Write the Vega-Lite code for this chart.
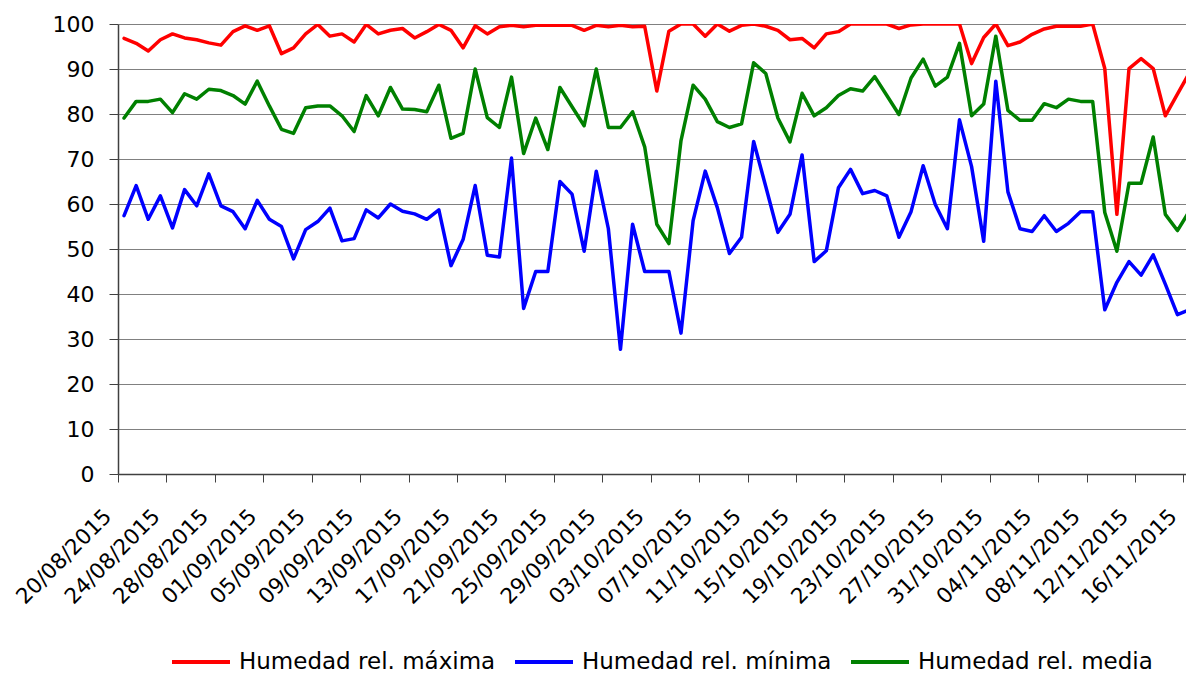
{
"$schema": "https://vega.github.io/schema/vega-lite/v6.json",
"width": 1068, "height": 450,
"autosize": {"type": "none"},
"padding": {"left": 118, "top": 24, "right": 0, "bottom": 203},
"background": "white",
"config": {"view": {"stroke": null}, "font": "DejaVu Sans"},
"datasets": {
"d": [
{"fecha":"2015-08-20","serie":"Humedad rel. máxima","valor":96.8},{"fecha":"2015-08-21","serie":"Humedad rel. máxima","valor":95.7},{"fecha":"2015-08-22","serie":"Humedad rel. máxima","valor":94.0},{"fecha":"2015-08-23","serie":"Humedad rel. máxima","valor":96.5},{"fecha":"2015-08-24","serie":"Humedad rel. máxima","valor":97.8},{"fecha":"2015-08-25","serie":"Humedad rel. máxima","valor":96.9},{"fecha":"2015-08-26","serie":"Humedad rel. máxima","valor":96.5},{"fecha":"2015-08-27","serie":"Humedad rel. máxima","valor":95.8},{"fecha":"2015-08-28","serie":"Humedad rel. máxima","valor":95.3},{"fecha":"2015-08-29","serie":"Humedad rel. máxima","valor":98.3},
{"fecha":"2015-08-30","serie":"Humedad rel. máxima","valor":99.6},{"fecha":"2015-08-31","serie":"Humedad rel. máxima","valor":98.6},{"fecha":"2015-09-01","serie":"Humedad rel. máxima","valor":99.6},{"fecha":"2015-09-02","serie":"Humedad rel. máxima","valor":93.4},{"fecha":"2015-09-03","serie":"Humedad rel. máxima","valor":94.7},{"fecha":"2015-09-04","serie":"Humedad rel. máxima","valor":97.8},{"fecha":"2015-09-05","serie":"Humedad rel. máxima","valor":99.9},{"fecha":"2015-09-06","serie":"Humedad rel. máxima","valor":97.3},{"fecha":"2015-09-07","serie":"Humedad rel. máxima","valor":97.8},{"fecha":"2015-09-08","serie":"Humedad rel. máxima","valor":96.0},
{"fecha":"2015-09-09","serie":"Humedad rel. máxima","valor":99.9},{"fecha":"2015-09-10","serie":"Humedad rel. máxima","valor":97.8},{"fecha":"2015-09-11","serie":"Humedad rel. máxima","valor":98.6},{"fecha":"2015-09-12","serie":"Humedad rel. máxima","valor":99.0},{"fecha":"2015-09-13","serie":"Humedad rel. máxima","valor":96.9},{"fecha":"2015-09-14","serie":"Humedad rel. máxima","valor":98.3},{"fecha":"2015-09-15","serie":"Humedad rel. máxima","valor":99.9},{"fecha":"2015-09-16","serie":"Humedad rel. máxima","valor":98.6},{"fecha":"2015-09-17","serie":"Humedad rel. máxima","valor":94.7},{"fecha":"2015-09-18","serie":"Humedad rel. máxima","valor":99.6},
{"fecha":"2015-09-19","serie":"Humedad rel. máxima","valor":97.8},{"fecha":"2015-09-20","serie":"Humedad rel. máxima","valor":99.4},{"fecha":"2015-09-21","serie":"Humedad rel. máxima","valor":99.7},{"fecha":"2015-09-22","serie":"Humedad rel. máxima","valor":99.4},{"fecha":"2015-09-23","serie":"Humedad rel. máxima","valor":99.7},{"fecha":"2015-09-24","serie":"Humedad rel. máxima","valor":99.7},{"fecha":"2015-09-25","serie":"Humedad rel. máxima","valor":99.7},{"fecha":"2015-09-26","serie":"Humedad rel. máxima","valor":99.7},{"fecha":"2015-09-27","serie":"Humedad rel. máxima","valor":98.6},{"fecha":"2015-09-28","serie":"Humedad rel. máxima","valor":99.7},
{"fecha":"2015-09-29","serie":"Humedad rel. máxima","valor":99.4},{"fecha":"2015-09-30","serie":"Humedad rel. máxima","valor":99.7},{"fecha":"2015-10-01","serie":"Humedad rel. máxima","valor":99.4},{"fecha":"2015-10-02","serie":"Humedad rel. máxima","valor":99.5},{"fecha":"2015-10-03","serie":"Humedad rel. máxima","valor":85.1},{"fecha":"2015-10-04","serie":"Humedad rel. máxima","valor":98.4},{"fecha":"2015-10-05","serie":"Humedad rel. máxima","valor":100},{"fecha":"2015-10-06","serie":"Humedad rel. máxima","valor":100},{"fecha":"2015-10-07","serie":"Humedad rel. máxima","valor":97.3},{"fecha":"2015-10-08","serie":"Humedad rel. máxima","valor":100},
{"fecha":"2015-10-09","serie":"Humedad rel. máxima","valor":98.4},{"fecha":"2015-10-10","serie":"Humedad rel. máxima","valor":99.7},{"fecha":"2015-10-11","serie":"Humedad rel. máxima","valor":100},{"fecha":"2015-10-12","serie":"Humedad rel. máxima","valor":99.5},{"fecha":"2015-10-13","serie":"Humedad rel. máxima","valor":98.6},{"fecha":"2015-10-14","serie":"Humedad rel. máxima","valor":96.5},{"fecha":"2015-10-15","serie":"Humedad rel. máxima","valor":96.8},{"fecha":"2015-10-16","serie":"Humedad rel. máxima","valor":94.7},{"fecha":"2015-10-17","serie":"Humedad rel. máxima","valor":97.8},{"fecha":"2015-10-18","serie":"Humedad rel. máxima","valor":98.3},
{"fecha":"2015-10-19","serie":"Humedad rel. máxima","valor":100},{"fecha":"2015-10-20","serie":"Humedad rel. máxima","valor":100},{"fecha":"2015-10-21","serie":"Humedad rel. máxima","valor":100},{"fecha":"2015-10-22","serie":"Humedad rel. máxima","valor":100},{"fecha":"2015-10-23","serie":"Humedad rel. máxima","valor":99.0},{"fecha":"2015-10-24","serie":"Humedad rel. máxima","valor":99.8},{"fecha":"2015-10-25","serie":"Humedad rel. máxima","valor":100},{"fecha":"2015-10-26","serie":"Humedad rel. máxima","valor":100},{"fecha":"2015-10-27","serie":"Humedad rel. máxima","valor":100},{"fecha":"2015-10-28","serie":"Humedad rel. máxima","valor":100},
{"fecha":"2015-10-29","serie":"Humedad rel. máxima","valor":91.2},{"fecha":"2015-10-30","serie":"Humedad rel. máxima","valor":97.0},{"fecha":"2015-10-31","serie":"Humedad rel. máxima","valor":100},{"fecha":"2015-11-01","serie":"Humedad rel. máxima","valor":95.2},{"fecha":"2015-11-02","serie":"Humedad rel. máxima","valor":96.0},{"fecha":"2015-11-03","serie":"Humedad rel. máxima","valor":97.7},{"fecha":"2015-11-04","serie":"Humedad rel. máxima","valor":98.9},{"fecha":"2015-11-05","serie":"Humedad rel. máxima","valor":99.5},{"fecha":"2015-11-06","serie":"Humedad rel. máxima","valor":99.5},{"fecha":"2015-11-07","serie":"Humedad rel. máxima","valor":99.5},
{"fecha":"2015-11-08","serie":"Humedad rel. máxima","valor":100},{"fecha":"2015-11-09","serie":"Humedad rel. máxima","valor":90.1},{"fecha":"2015-11-10","serie":"Humedad rel. máxima","valor":57.7},{"fecha":"2015-11-11","serie":"Humedad rel. máxima","valor":90.1},{"fecha":"2015-11-12","serie":"Humedad rel. máxima","valor":92.3},{"fecha":"2015-11-13","serie":"Humedad rel. máxima","valor":90.1},{"fecha":"2015-11-14","serie":"Humedad rel. máxima","valor":79.6},{"fecha":"2015-11-15","serie":"Humedad rel. máxima","valor":84.4},{"fecha":"2015-11-16","serie":"Humedad rel. máxima","valor":89.2},

{"fecha":"2015-08-20","serie":"Humedad rel. mínima","valor":57.4},{"fecha":"2015-08-21","serie":"Humedad rel. mínima","valor":64.1},{"fecha":"2015-08-22","serie":"Humedad rel. mínima","valor":56.6},{"fecha":"2015-08-23","serie":"Humedad rel. mínima","valor":61.8},{"fecha":"2015-08-24","serie":"Humedad rel. mínima","valor":54.7},{"fecha":"2015-08-25","serie":"Humedad rel. mínima","valor":63.2},{"fecha":"2015-08-26","serie":"Humedad rel. mínima","valor":59.6},{"fecha":"2015-08-27","serie":"Humedad rel. mínima","valor":66.7},{"fecha":"2015-08-28","serie":"Humedad rel. mínima","valor":59.6},{"fecha":"2015-08-29","serie":"Humedad rel. mínima","valor":58.3},
{"fecha":"2015-08-30","serie":"Humedad rel. mínima","valor":54.5},{"fecha":"2015-08-31","serie":"Humedad rel. mínima","valor":60.8},{"fecha":"2015-09-01","serie":"Humedad rel. mínima","valor":56.6},{"fecha":"2015-09-02","serie":"Humedad rel. mínima","valor":55.0},{"fecha":"2015-09-03","serie":"Humedad rel. mínima","valor":47.8},{"fecha":"2015-09-04","serie":"Humedad rel. mínima","valor":54.3},{"fecha":"2015-09-05","serie":"Humedad rel. mínima","valor":56.1},{"fecha":"2015-09-06","serie":"Humedad rel. mínima","valor":59.1},{"fecha":"2015-09-07","serie":"Humedad rel. mínima","valor":51.8},{"fecha":"2015-09-08","serie":"Humedad rel. mínima","valor":52.3},
{"fecha":"2015-09-09","serie":"Humedad rel. mínima","valor":58.7},{"fecha":"2015-09-10","serie":"Humedad rel. mínima","valor":56.9},{"fecha":"2015-09-11","serie":"Humedad rel. mínima","valor":60.0},{"fecha":"2015-09-12","serie":"Humedad rel. mínima","valor":58.4},{"fecha":"2015-09-13","serie":"Humedad rel. mínima","valor":57.8},{"fecha":"2015-09-14","serie":"Humedad rel. mínima","valor":56.6},{"fecha":"2015-09-15","serie":"Humedad rel. mínima","valor":58.7},{"fecha":"2015-09-16","serie":"Humedad rel. mínima","valor":46.3},{"fecha":"2015-09-17","serie":"Humedad rel. mínima","valor":52.1},{"fecha":"2015-09-18","serie":"Humedad rel. mínima","valor":64.1},
{"fecha":"2015-09-19","serie":"Humedad rel. mínima","valor":48.6},{"fecha":"2015-09-20","serie":"Humedad rel. mínima","valor":48.2},{"fecha":"2015-09-21","serie":"Humedad rel. mínima","valor":70.2},{"fecha":"2015-09-22","serie":"Humedad rel. mínima","valor":36.8},{"fecha":"2015-09-23","serie":"Humedad rel. mínima","valor":45.0},{"fecha":"2015-09-24","serie":"Humedad rel. mínima","valor":45.0},{"fecha":"2015-09-25","serie":"Humedad rel. mínima","valor":65.0},{"fecha":"2015-09-26","serie":"Humedad rel. mínima","valor":62.2},{"fecha":"2015-09-27","serie":"Humedad rel. mínima","valor":49.5},{"fecha":"2015-09-28","serie":"Humedad rel. mínima","valor":67.3},
{"fecha":"2015-09-29","serie":"Humedad rel. mínima","valor":54.5},{"fecha":"2015-09-30","serie":"Humedad rel. mínima","valor":27.7},{"fecha":"2015-10-01","serie":"Humedad rel. mínima","valor":55.5},{"fecha":"2015-10-02","serie":"Humedad rel. mínima","valor":45.0},{"fecha":"2015-10-03","serie":"Humedad rel. mínima","valor":45.0},{"fecha":"2015-10-04","serie":"Humedad rel. mínima","valor":45.0},{"fecha":"2015-10-05","serie":"Humedad rel. mínima","valor":31.3},{"fecha":"2015-10-06","serie":"Humedad rel. mínima","valor":56.3},{"fecha":"2015-10-07","serie":"Humedad rel. mínima","valor":67.3},{"fecha":"2015-10-08","serie":"Humedad rel. mínima","valor":59.2},
{"fecha":"2015-10-09","serie":"Humedad rel. mínima","valor":49.0},{"fecha":"2015-10-10","serie":"Humedad rel. mínima","valor":52.6},{"fecha":"2015-10-11","serie":"Humedad rel. mínima","valor":73.9},{"fecha":"2015-10-12","serie":"Humedad rel. mínima","valor":63.9},{"fecha":"2015-10-13","serie":"Humedad rel. mínima","valor":53.7},{"fecha":"2015-10-14","serie":"Humedad rel. mínima","valor":57.7},{"fecha":"2015-10-15","serie":"Humedad rel. mínima","valor":70.9},{"fecha":"2015-10-16","serie":"Humedad rel. mínima","valor":47.2},{"fecha":"2015-10-17","serie":"Humedad rel. mínima","valor":49.6},{"fecha":"2015-10-18","serie":"Humedad rel. mínima","valor":63.6},
{"fecha":"2015-10-19","serie":"Humedad rel. mínima","valor":67.7},{"fecha":"2015-10-20","serie":"Humedad rel. mínima","valor":62.3},{"fecha":"2015-10-21","serie":"Humedad rel. mínima","valor":63.0},{"fecha":"2015-10-22","serie":"Humedad rel. mínima","valor":61.8},{"fecha":"2015-10-23","serie":"Humedad rel. mínima","valor":52.6},{"fecha":"2015-10-24","serie":"Humedad rel. mínima","valor":58.3},{"fecha":"2015-10-25","serie":"Humedad rel. mínima","valor":68.5},{"fecha":"2015-10-26","serie":"Humedad rel. mínima","valor":59.9},{"fecha":"2015-10-27","serie":"Humedad rel. mínima","valor":54.5},{"fecha":"2015-10-28","serie":"Humedad rel. mínima","valor":78.7},
{"fecha":"2015-10-29","serie":"Humedad rel. mínima","valor":68.3},{"fecha":"2015-10-30","serie":"Humedad rel. mínima","valor":51.7},{"fecha":"2015-10-31","serie":"Humedad rel. mínima","valor":87.3},{"fecha":"2015-11-01","serie":"Humedad rel. mínima","valor":62.7},{"fecha":"2015-11-02","serie":"Humedad rel. mínima","valor":54.5},{"fecha":"2015-11-03","serie":"Humedad rel. mínima","valor":53.9},{"fecha":"2015-11-04","serie":"Humedad rel. mínima","valor":57.4},{"fecha":"2015-11-05","serie":"Humedad rel. mínima","valor":53.9},{"fecha":"2015-11-06","serie":"Humedad rel. mínima","valor":55.7},{"fecha":"2015-11-07","serie":"Humedad rel. mínima","valor":58.3},
{"fecha":"2015-11-08","serie":"Humedad rel. mínima","valor":58.3},{"fecha":"2015-11-09","serie":"Humedad rel. mínima","valor":36.5},{"fecha":"2015-11-10","serie":"Humedad rel. mínima","valor":42.6},{"fecha":"2015-11-11","serie":"Humedad rel. mínima","valor":47.2},{"fecha":"2015-11-12","serie":"Humedad rel. mínima","valor":44.2},{"fecha":"2015-11-13","serie":"Humedad rel. mínima","valor":48.7},{"fecha":"2015-11-14","serie":"Humedad rel. mínima","valor":42.2},{"fecha":"2015-11-15","serie":"Humedad rel. mínima","valor":35.4},{"fecha":"2015-11-16","serie":"Humedad rel. mínima","valor":36.5},

{"fecha":"2015-08-20","serie":"Humedad rel. media","valor":79.1},{"fecha":"2015-08-21","serie":"Humedad rel. media","valor":82.8},{"fecha":"2015-08-22","serie":"Humedad rel. media","valor":82.8},{"fecha":"2015-08-23","serie":"Humedad rel. media","valor":83.3},{"fecha":"2015-08-24","serie":"Humedad rel. media","valor":80.3},{"fecha":"2015-08-25","serie":"Humedad rel. media","valor":84.5},{"fecha":"2015-08-26","serie":"Humedad rel. media","valor":83.3},{"fecha":"2015-08-27","serie":"Humedad rel. media","valor":85.5},{"fecha":"2015-08-28","serie":"Humedad rel. media","valor":85.2},{"fecha":"2015-08-29","serie":"Humedad rel. media","valor":84.1},
{"fecha":"2015-08-30","serie":"Humedad rel. media","valor":82.2},{"fecha":"2015-08-31","serie":"Humedad rel. media","valor":87.3},{"fecha":"2015-09-01","serie":"Humedad rel. media","valor":81.8},{"fecha":"2015-09-02","serie":"Humedad rel. media","valor":76.6},{"fecha":"2015-09-03","serie":"Humedad rel. media","valor":75.7},{"fecha":"2015-09-04","serie":"Humedad rel. media","valor":81.4},{"fecha":"2015-09-05","serie":"Humedad rel. media","valor":81.8},{"fecha":"2015-09-06","serie":"Humedad rel. media","valor":81.8},{"fecha":"2015-09-07","serie":"Humedad rel. media","valor":79.6},{"fecha":"2015-09-08","serie":"Humedad rel. media","valor":76.1},
{"fecha":"2015-09-09","serie":"Humedad rel. media","valor":84.1},{"fecha":"2015-09-10","serie":"Humedad rel. media","valor":79.6},{"fecha":"2015-09-11","serie":"Humedad rel. media","valor":85.9},{"fecha":"2015-09-12","serie":"Humedad rel. media","valor":81.1},{"fecha":"2015-09-13","serie":"Humedad rel. media","valor":81.0},{"fecha":"2015-09-14","serie":"Humedad rel. media","valor":80.5},{"fecha":"2015-09-15","serie":"Humedad rel. media","valor":86.4},{"fecha":"2015-09-16","serie":"Humedad rel. media","valor":74.6},{"fecha":"2015-09-17","serie":"Humedad rel. media","valor":75.7},{"fecha":"2015-09-18","serie":"Humedad rel. media","valor":90.0},
{"fecha":"2015-09-19","serie":"Humedad rel. media","valor":79.2},{"fecha":"2015-09-20","serie":"Humedad rel. media","valor":77.0},{"fecha":"2015-09-21","serie":"Humedad rel. media","valor":88.2},{"fecha":"2015-09-22","serie":"Humedad rel. media","valor":71.2},{"fecha":"2015-09-23","serie":"Humedad rel. media","valor":79.1},{"fecha":"2015-09-24","serie":"Humedad rel. media","valor":72.1},{"fecha":"2015-09-25","serie":"Humedad rel. media","valor":85.9},{"fecha":"2015-09-26","serie":"Humedad rel. media","valor":81.6},{"fecha":"2015-09-27","serie":"Humedad rel. media","valor":77.4},{"fecha":"2015-09-28","serie":"Humedad rel. media","valor":90.0},
{"fecha":"2015-09-29","serie":"Humedad rel. media","valor":77.0},{"fecha":"2015-09-30","serie":"Humedad rel. media","valor":77.0},{"fecha":"2015-10-01","serie":"Humedad rel. media","valor":80.5},{"fecha":"2015-10-02","serie":"Humedad rel. media","valor":72.7},{"fecha":"2015-10-03","serie":"Humedad rel. media","valor":55.5},{"fecha":"2015-10-04","serie":"Humedad rel. media","valor":51.2},{"fecha":"2015-10-05","serie":"Humedad rel. media","valor":74.1},{"fecha":"2015-10-06","serie":"Humedad rel. media","valor":86.4},{"fecha":"2015-10-07","serie":"Humedad rel. media","valor":83.3},{"fecha":"2015-10-08","serie":"Humedad rel. media","valor":78.3},
{"fecha":"2015-10-09","serie":"Humedad rel. media","valor":77.0},{"fecha":"2015-10-10","serie":"Humedad rel. media","valor":77.8},{"fecha":"2015-10-11","serie":"Humedad rel. media","valor":91.4},{"fecha":"2015-10-12","serie":"Humedad rel. media","valor":89.0},{"fecha":"2015-10-13","serie":"Humedad rel. media","valor":79.1},{"fecha":"2015-10-14","serie":"Humedad rel. media","valor":73.8},{"fecha":"2015-10-15","serie":"Humedad rel. media","valor":84.6},{"fecha":"2015-10-16","serie":"Humedad rel. media","valor":79.6},{"fecha":"2015-10-17","serie":"Humedad rel. media","valor":81.4},{"fecha":"2015-10-18","serie":"Humedad rel. media","valor":84.1},
{"fecha":"2015-10-19","serie":"Humedad rel. media","valor":85.6},{"fecha":"2015-10-20","serie":"Humedad rel. media","valor":85.1},{"fecha":"2015-10-21","serie":"Humedad rel. media","valor":88.3},{"fecha":"2015-10-22","serie":"Humedad rel. media","valor":84.1},{"fecha":"2015-10-23","serie":"Humedad rel. media","valor":79.9},{"fecha":"2015-10-24","serie":"Humedad rel. media","valor":88.0},{"fecha":"2015-10-25","serie":"Humedad rel. media","valor":92.2},{"fecha":"2015-10-26","serie":"Humedad rel. media","valor":86.2},{"fecha":"2015-10-27","serie":"Humedad rel. media","valor":88.2},{"fecha":"2015-10-28","serie":"Humedad rel. media","valor":95.7},
{"fecha":"2015-10-29","serie":"Humedad rel. media","valor":79.6},{"fecha":"2015-10-30","serie":"Humedad rel. media","valor":82.2},{"fecha":"2015-10-31","serie":"Humedad rel. media","valor":97.3},{"fecha":"2015-11-01","serie":"Humedad rel. media","valor":80.8},{"fecha":"2015-11-02","serie":"Humedad rel. media","valor":78.6},{"fecha":"2015-11-03","serie":"Humedad rel. media","valor":78.6},{"fecha":"2015-11-04","serie":"Humedad rel. media","valor":82.3},{"fecha":"2015-11-05","serie":"Humedad rel. media","valor":81.4},{"fecha":"2015-11-06","serie":"Humedad rel. media","valor":83.3},{"fecha":"2015-11-07","serie":"Humedad rel. media","valor":82.8},
{"fecha":"2015-11-08","serie":"Humedad rel. media","valor":82.8},{"fecha":"2015-11-09","serie":"Humedad rel. media","valor":58.1},{"fecha":"2015-11-10","serie":"Humedad rel. media","valor":49.5},{"fecha":"2015-11-11","serie":"Humedad rel. media","valor":64.6},{"fecha":"2015-11-12","serie":"Humedad rel. media","valor":64.6},{"fecha":"2015-11-13","serie":"Humedad rel. media","valor":74.9},{"fecha":"2015-11-14","serie":"Humedad rel. media","valor":57.7},{"fecha":"2015-11-15","serie":"Humedad rel. media","valor":54.1},{"fecha":"2015-11-16","serie":"Humedad rel. media","valor":58.5}
]},
"data": {"name": "d"},
"mark": {"type": "line", "clip": true, "strokeWidth": 3.5, "strokeJoin": "round", "strokeCap": "round"},
"encoding": {
"x": {"field": "fecha", "type": "temporal", "timeUnit": "utcyearmonthdate", "bandPosition": 0.5,
 "scale": {"type": "utc", "domain": [{"year": 2015, "month": 8, "date": 20, "utc": true}, {"year": 2015, "month": 11, "date": 16, "hours": 5, "utc": true}]},
 "axis": {"title": null, "grid": false, "labelExpr": "utcFormat(datum.value, '%d/%m/%Y')",
  "values": [
   {"year":2015,"month":8,"date":20,"utc":true},{"year":2015,"month":8,"date":24,"utc":true},{"year":2015,"month":8,"date":28,"utc":true},
   {"year":2015,"month":9,"date":1,"utc":true},{"year":2015,"month":9,"date":5,"utc":true},{"year":2015,"month":9,"date":9,"utc":true},
   {"year":2015,"month":9,"date":13,"utc":true},{"year":2015,"month":9,"date":17,"utc":true},{"year":2015,"month":9,"date":21,"utc":true},
   {"year":2015,"month":9,"date":25,"utc":true},{"year":2015,"month":9,"date":29,"utc":true},{"year":2015,"month":10,"date":3,"utc":true},
   {"year":2015,"month":10,"date":7,"utc":true},{"year":2015,"month":10,"date":11,"utc":true},{"year":2015,"month":10,"date":15,"utc":true},
   {"year":2015,"month":10,"date":19,"utc":true},{"year":2015,"month":10,"date":23,"utc":true},{"year":2015,"month":10,"date":27,"utc":true},
   {"year":2015,"month":10,"date":31,"utc":true},{"year":2015,"month":11,"date":4,"utc":true},{"year":2015,"month":11,"date":8,"utc":true},
   {"year":2015,"month":11,"date":12,"utc":true},{"year":2015,"month":11,"date":16,"utc":true}],
  "labelAngle": -45, "labelAlign": "right", "labelBaseline": "middle", "labelFont": "DejaVu Sans", "labelFontSize": 21.5, "labelColor": "#000000",
  "labelPadding": 31, "labelOffset": -10, "labelOverlap": false, "labelFlush": false, "labelBound": false,
  "tickSize": 8, "tickColor": "#404040", "tickWidth": 1, "domainColor": "#404040", "domainWidth": 1.5}},
"y": {"field": "valor", "type": "quantitative", "scale": {"domain": [0, 100], "nice": false, "zero": true},
 "axis": {"title": null, "values": [0,10,20,30,40,50,60,70,80,90,100], "grid": true, "gridColor": "#808080", "gridWidth": 1,
  "labelFont": "DejaVu Sans", "labelFontSize": 22, "labelColor": "#000000", "labelPadding": 15,
  "tickSize": 9, "tickColor": "#404040", "tickWidth": 1, "domainColor": "#404040", "domainWidth": 1.5}},
"color": {"field": "serie", "type": "nominal",
 "scale": {"domain": ["Humedad rel. máxima", "Humedad rel. mínima", "Humedad rel. media"], "range": ["#ff0000", "#0000ff", "#008000"]},
 "legend": {"title": null, "orient": "none", "legendX": 52, "legendY": 623, "direction": "horizontal", "clipHeight": 30,
  "symbolType": "stroke", "symbolSize": 3364, "symbolStrokeWidth": 4, "labelFont": "DejaVu Sans", "labelFontSize": 23,
  "labelColor": "#000000", "labelOffset": 7, "columnPadding": 17, "labelLimit": 400}}
}
}
